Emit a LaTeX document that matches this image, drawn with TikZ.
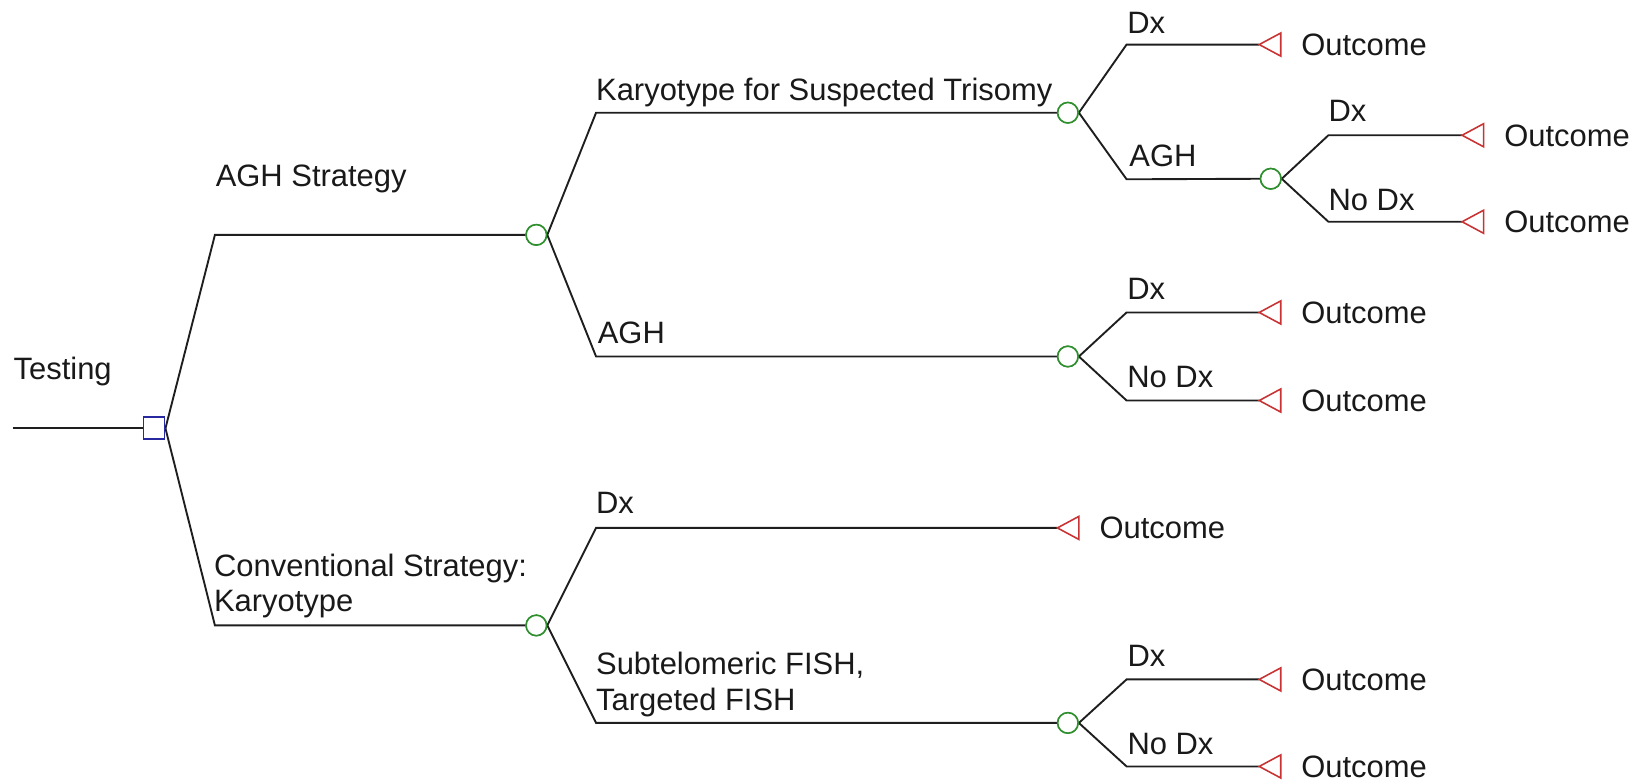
\documentclass[tikz,border=0pt]{standalone}
\usepackage{fontspec}
\setmainfont{Liberation Sans}
\definecolor{linec}{HTML}{1E1E1E}
\definecolor{decc}{HTML}{2828A0}
\definecolor{chc}{HTML}{2F8F2F}
\definecolor{termc}{HTML}{C83232}
\begin{document}
\begin{tikzpicture}[x=1pt,y=-1pt,
  conn/.style={draw=linec,line width=1.8pt,line join=miter},
  lbl/.style={inner sep=0pt,anchor=base west,font=\fontsize{29.5}{34}\selectfont,text=black!90,align=left},
  decision/.style={draw=decc,line width=1.6pt,rectangle,minimum width=20pt,minimum height=21pt,inner sep=0pt,fill=white},
  chance/.style={draw=chc,line width=1.5pt,circle,minimum size=19.5pt,inner sep=0pt,fill=white},
  pics/outcome/.style={code={
    \draw[draw=termc,line width=1.5pt,line join=miter] (0,0) -- (20.5,-11) -- (20.5,11) -- cycle;
    \node[lbl] (-txt) at (40,10.3) {Outcome};}}]
\useasboundingbox (0,0) rectangle (1568,745);

% ---- decision / chance nodes
\node[decision] (d0) at (147,408.5) {};
\node[chance] (c1) at (511.5,224) {};
\node[chance] (c2) at (1018.5,107.5) {};
\node[chance] (c3) at (1018.5,340) {};
\node[chance] (c4) at (1212,170.5) {};
\node[chance] (c5) at (511.5,596.5) {};
\node[chance] (c6) at (1018.5,689.5) {};

% ---- free ends and corners
\coordinate (r0) at (12,408.5);
\coordinate (k1) at (205,224);
\coordinate (k2) at (205,596.5);
\coordinate (k11) at (568.5,107.5);
\coordinate (k12) at (568.5,340);
\coordinate (k21) at (1074.5,42.5);
\coordinate (k22) at (1074.5,171);
\coordinate (k41) at (1267,129);
\coordinate (k42) at (1267,211.5);
\coordinate (k31) at (1074.5,298);
\coordinate (k32) at (1074.5,382);
\coordinate (k51) at (568.5,503.5);
\coordinate (k52) at (568.5,689.5);
\coordinate (k61) at (1074.5,648);
\coordinate (k62) at (1074.5,731);

% ---- terminal tips
\coordinate (t1) at (1201,42.5);
\coordinate (t2) at (1394.5,129);
\coordinate (t3) at (1394.5,211.5);
\coordinate (t4) at (1201,298);
\coordinate (t5) at (1201,382);
\coordinate (t6) at (1008.5,503.5);
\coordinate (t7) at (1201,648);
\coordinate (t8) at (1201,731);

% ---- connectors
\draw[conn] (r0) -- (d0.west);
\draw[conn] (d0.east) -- (k1) -- (c1.west);
\draw[conn] (d0.east) -- (k2) -- (c5.west);
\draw[conn] (c1.east) -- (k11) -- (c2.west);
\draw[conn] (c1.east) -- (k12) -- (c3.west);
\draw[conn] (c2.east) -- (k21) -- (t1);
\draw[conn] (c2.east) -- (k22) -- (c4.west);
\draw[conn] (c4.east) -- (k41) -- (t2);
\draw[conn] (c4.east) -- (k42) -- (t3);
\draw[conn] (c3.east) -- (k31) -- (t4);
\draw[conn] (c3.east) -- (k32) -- (t5);
\draw[conn] (c5.east) -- (k51) -- (t6);
\draw[conn] (c5.east) -- (k52) -- (c6.west);
\draw[conn] (c6.east) -- (k61) -- (t7);
\draw[conn] (c6.east) -- (k62) -- (t8);

% ---- redraw nodes on top
\node[decision] at (d0) {};
\foreach \c in {c1,c2,c3,c4,c5,c6} \node[chance] at (\c) {};

% ---- outcomes
\pic (o1) at (t1) {outcome};
\pic (o2) at (t2) {outcome};
\pic (o3) at (t3) {outcome};
\pic (o4) at (t4) {outcome};
\pic (o5) at (t5) {outcome};
\pic (o6) at (t6) {outcome};
\pic (o7) at (t7) {outcome};
\pic (o8) at (t8) {outcome};

% ---- branch labels
\node[lbl] (l0) at (12.8,362.4) {Testing};
\node[lbl] (l1) at (205.6,177.4) {AGH Strategy};
\node[lbl] (l2) at (204,583.4) {Conventional Strategy:\\Karyotype};
\node[lbl] (l11) at (568.4,95.4) {Karyotype for Suspected Trisomy};
\node[lbl] (l12) at (570,327.4) {AGH};
\node[lbl] (l21) at (1075,31.8) {Dx};
\node[lbl] (l22) at (1077,159) {AGH};
\node[lbl] (l41) at (1267,116) {Dx};
\node[lbl] (l42) at (1267,200.3) {No Dx};
\node[lbl] (l31) at (1075,286) {Dx};
\node[lbl] (l32) at (1075,370) {No Dx};
\node[lbl] (l51) at (568.4,489.6) {Dx};
\node[lbl] (l52) at (568.4,677.2) {Subtelomeric FISH,\\Targeted FISH};
\node[lbl] (l61) at (1075.2,635.8) {Dx};
\node[lbl] (l62) at (1075.2,720) {No Dx};
\end{tikzpicture}
\end{document}
